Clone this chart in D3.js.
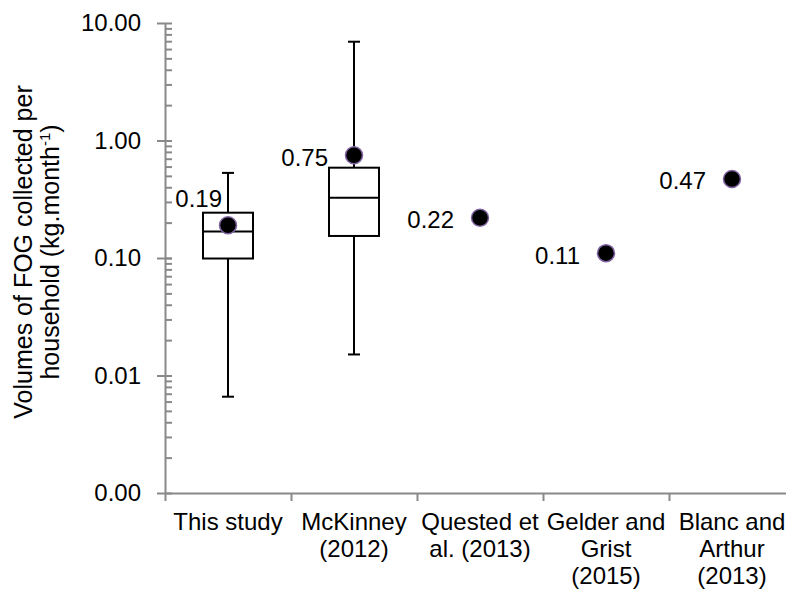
<!DOCTYPE html>
<html>
<head>
<meta charset="utf-8">
<script src="https://cdn.jsdelivr.net/npm/d3@7"></script>
<style>
  body { margin: 0; background: #fff; }
  svg { display: block; font-family: "Liberation Sans", Arial, sans-serif; }
</style>
</head>
<body>
<svg id="chart" width="786" height="589"></svg>
<script>
// categories, one entry per line of the axis label
const categories = ['This study', 'McKinney (2012)', 'Quested et al. (2013)', 'Gelder and Grist (2015)', 'Blanc and Arthur (2013)'];
const categoryLines = [['This study'], ['McKinney', '(2012)'], ['Quested et', 'al. (2013)'], ['Gelder and', 'Grist', '(2015)'], ['Blanc and', 'Arthur', '(2013)']];

// reported / mean values per study (the dots)
const pointValues = [0.19, 0.75, 0.22, 0.11, 0.47];

// box plot stats (min, q1, median, q3, max) - only first two studies have them
const boxMin = [0.0066, 0.0151];
const boxQ1 = [0.099, 0.154];
const boxMedian = [0.168, 0.326];
const boxQ3 = [0.243, 0.587];
const boxMax = [0.53, 6.93];

const yTickValues = [0.001, 0.01, 0.1, 1, 10];

const svg = d3.select('#chart');
const axisColor = '#898989';
const fontSize = 24;

const x = d3.scaleBand().domain(categories).range([165, 795]);
const xEdges = d3.scaleLinear().domain([0, categories.length]).range([165, 795]);
const y = d3.scaleLog().domain([0.001, 10]).range([493, 23]);

// minor ticks 2..9 of every decade
const minorTicks = [];
yTickValues.slice(0, -1).forEach(d => {
  for (let k = 1; k <= 10; k++) minorTicks.push(d * k);
});

// y axis - minor ticks on the right side
svg.append('g')
  .attr('transform', 'translate(165,0)')
  .call(d3.axisRight(y).tickValues(minorTicks).tickSize(7).tickSizeOuter(0).tickFormat(''))
  .call(g => g.select('.domain').remove());

// y axis - major ticks + labels
const yAxis = svg.append('g')
  .attr('class', 'axis-y')
  .attr('transform', 'translate(165,0)')
  .call(d3.axisLeft(y).tickValues(yTickValues).tickSize(8).tickSizeOuter(0).tickPadding(16)
    .tickFormat(d => d.toFixed(2)));

// x axis - ticks at category edges
const xAxis = svg.append('g')
  .attr('class', 'axis-x')
  .attr('transform', 'translate(0,493)')
  .call(d3.axisBottom(xEdges).tickValues(d3.range(categories.length + 1)).tickSize(8).tickSizeOuter(0).tickFormat(''));

svg.selectAll('.axis-x path, .axis-x line, .axis-y path, .axis-y line, .tick line')
  .attr('stroke', axisColor)
  .attr('stroke-width', 2);
svg.selectAll('.axis-y text')
  .attr('fill', '#000')
  .style('font-size', fontSize + 'px')
  .style('font-family', '"Liberation Sans", Arial, sans-serif');

// category labels (multi line)
const catLabels = svg.append('g').selectAll('text')
  .data(categories)
  .join('text')
  .attr('x', d => x(d) + x.bandwidth() / 2)
  .attr('y', 530)
  .attr('text-anchor', 'middle')
  .attr('fill', '#000')
  .style('font-size', fontSize + 'px');
catLabels.each(function(d, i) {
  d3.select(this).selectAll('tspan')
    .data(categoryLines[i])
    .join('tspan')
    .attr('x', x(d) + x.bandwidth() / 2)
    .attr('dy', (t, j) => j === 0 ? 0 : 27)
    .text(t => t);
});

// box plots
const boxWidth = 50;
const capWidth = 12;
const boxes = svg.append('g').selectAll('g')
  .data(boxMin.map((d, i) => i))
  .join('g')
  .attr('transform', i => `translate(${x(categories[i]) + x.bandwidth() / 2},0)`)
  .attr('stroke', '#000')
  .attr('stroke-width', 2)
  .attr('fill', '#fff');

boxes.append('line')
  .attr('y1', i => y(boxMin[i]))
  .attr('y2', i => y(boxMax[i]));
boxes.append('line')
  .attr('x1', -capWidth / 2).attr('x2', capWidth / 2)
  .attr('y1', i => y(boxMax[i])).attr('y2', i => y(boxMax[i]));
boxes.append('line')
  .attr('x1', -capWidth / 2).attr('x2', capWidth / 2)
  .attr('y1', i => y(boxMin[i])).attr('y2', i => y(boxMin[i]));
boxes.append('rect')
  .attr('x', -boxWidth / 2)
  .attr('width', boxWidth)
  .attr('y', i => y(boxQ3[i]))
  .attr('height', i => y(boxQ1[i]) - y(boxQ3[i]));
boxes.append('line')
  .attr('x1', -boxWidth / 2).attr('x2', boxWidth / 2)
  .attr('y1', i => y(boxMedian[i])).attr('y2', i => y(boxMedian[i]));

// dots
svg.append('g').selectAll('circle')
  .data(pointValues)
  .join('circle')
  .attr('cx', (d, i) => x(categories[i]) + x.bandwidth() / 2)
  .attr('cy', d => y(d))
  .attr('r', 8.5)
  .attr('fill', '#000')
  .attr('stroke', '#8064a2')
  .attr('stroke-width', 1.5);

// value labels - first one sits above-left so it doesn't collide with the box
svg.append('g').selectAll('text')
  .data(pointValues)
  .join('text')
  .attr('x', (d, i) => x(categories[i]) + x.bandwidth() / 2 - (i === 0 ? 6 : 26))
  .attr('y', (d, i) => y(d) + (i === 0 ? -27 : 2))
  .attr('dy', '0.35em')
  .attr('text-anchor', 'end')
  .attr('fill', '#000')
  .style('font-size', fontSize + 'px')
  .text(d => d.toFixed(2));

// y axis title
svg.append('text')
  .attr('transform', 'translate(32,252) rotate(-90)')
  .attr('text-anchor', 'middle')
  .attr('fill', '#000')
  .style('font-size', '25px')
  .call(t => {
    t.append('tspan').attr('x', 0).attr('dy', 0).text('Volumes of FOG collected per');
    t.append('tspan').attr('x', 0).attr('dy', 27).text('household (kg.month');
    t.append('tspan').attr('dy', -9).style('font-size', '15px').text('-1');
    t.append('tspan').attr('dy', 9).text(')');
  });
</script>
</body>
</html>
